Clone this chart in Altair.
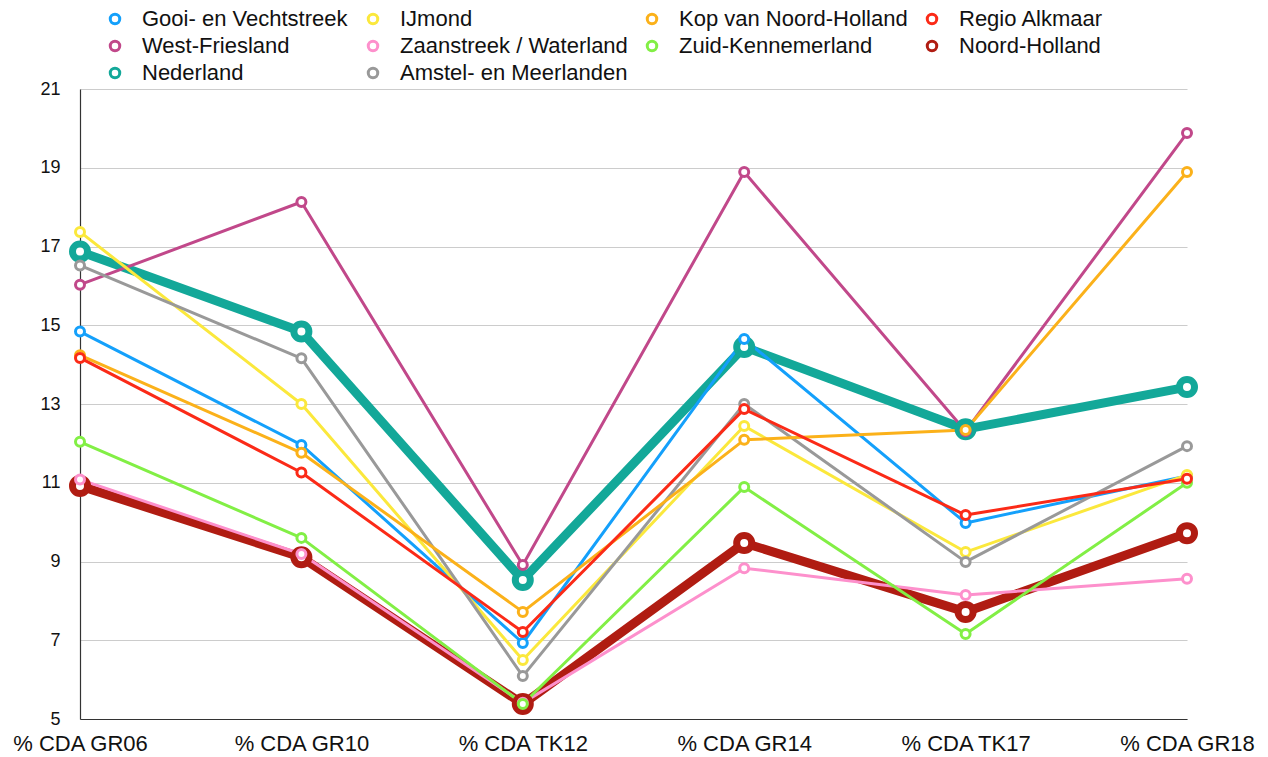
import altair as alt
import pandas as pd

periods = ["% CDA GR06", "% CDA GR10", "% CDA TK12", "% CDA GR14", "% CDA TK17", "% CDA GR18"]

# legend columns, as in the reference
col1_regions = ["Gooi- en Vechtstreek", "West-Friesland", "Nederland"]
col1_colors = ["#14a0fb", "#c1488a", "#13a899"]
col2_regions = ["IJmond", "Zaanstreek / Waterland", "Amstel- en Meerlanden"]
col2_colors = ["#fbe83c", "#fd90cc", "#999999"]
col3_regions = ["Kop van Noord-Holland", "Zuid-Kennemerland"]
col3_colors = ["#fbb11a", "#82ef45"]
col4_regions = ["Regio Alkmaar", "Noord-Holland"]
col4_colors = ["#fb2a17", "#b01c12"]

gooi = [14.84, 11.96, 6.93, 14.65, 9.98, 11.17]
westfriesland = [16.03, 18.13, 8.91, 18.89, 12.31, 19.88]
nederland = [16.87, 14.84, 8.53, 14.45, 12.36, 13.43]
ijmond = [17.37, 13.0, 6.5, 12.44, 9.24, 11.2]
zaanstreek = [11.08, 9.19, 5.41, 8.83, 8.15, 8.56]
amstel = [16.52, 14.16, 6.09, 13.0, 8.99, 11.93]
kop = [14.24, 11.76, 7.72, 12.09, 12.34, 18.89]
zuidkennemerland = [12.04, 9.6, 5.38, 10.89, 7.16, 11.0]
alkmaar = [14.17, 11.26, 7.21, 12.87, 10.18, 11.1]
noordholland = [10.92, 9.11, 5.38, 9.47, 7.72, 9.72]

thick_regions = ["Nederland", "Noord-Holland"]

groups = [
    (col1_regions, col1_colors, [gooi, westfriesland, nederland]),
    (col2_regions, col2_colors, [ijmond, zaanstreek, amstel]),
    (col3_regions, col3_colors, [kop, zuidkennemerland]),
    (col4_regions, col4_colors, [alkmaar, noordholland]),
]

rows = []
for gi, (names, _, vals_list) in enumerate(groups):
    for name, vals in zip(names, vals_list):
        for p, v in zip(periods, vals):
            rows.append({"regio": name, "periode": p, "waarde": v, "groep": gi,
                         "dik": 1 if name in thick_regions else 0})
df = pd.DataFrame(rows)

x_enc = alt.X("periode:N", sort=periods, scale=alt.Scale(type="point", padding=0),
              axis=alt.Axis(title=None, labelAngle=0, ticks=False, labelFontSize=22,
                            labelPadding=14, labelColor="#111", domainColor="#333",
                            domainWidth=1.2, grid=False, labelOverlap=False,
                            labelFont="Liberation Sans"))
y_enc = alt.Y("waarde:Q", scale=alt.Scale(domain=[5, 21], nice=False, zero=False),
              axis=alt.Axis(title=None, values=[5, 7, 9, 11, 13, 15, 17, 19, 21],
                            ticks=False, labelFontSize=18, labelPadding=20,
                            labelColor="#111", domainColor="#333", domainWidth=1.2,
                            grid=True, gridColor="#cccccc", gridWidth=1.2,
                            labelFont="Liberation Sans"))

legend_x = [24, 282, 561, 841]


def make_layer(gi, thick, kind, with_legend):
    names, cols, _ = groups[gi]
    if with_legend:
        leg = alt.Legend(title=None, orient="none", legendX=legend_x[gi], legendY=-81,
                         rowPadding=5, symbolType="circle", symbolSize=90,
                         symbolStrokeWidth=3, symbolFillColor="white",
                         labelFontSize=22, labelOffset=16, labelLimit=400,
                         labelColor="#111", labelFont="Liberation Sans")
    else:
        leg = None
    color = alt.Color("regio:N", scale=alt.Scale(domain=names, range=cols),
                      sort=names, legend=leg)
    ch = alt.Chart(df).transform_filter(
        f"datum.groep == {gi} && datum.dik == {thick}"
    ).encode(x=x_enc, y=y_enc, color=color, detail="regio:N")
    if kind == "line":
        return ch.mark_line(strokeWidth=9 if thick else 3, strokeJoin="round")
    return ch.mark_point(filled=False, fill="white", fillOpacity=1, opacity=1,
                         size=225 if thick else 81, strokeWidth=7 if thick else 3)


layers = [
    make_layer(0, 1, "line", False),
    make_layer(3, 1, "line", False),
    make_layer(0, 0, "line", False),
    make_layer(1, 0, "line", False),
    make_layer(2, 0, "line", False),
    make_layer(3, 0, "line", False),
    make_layer(0, 1, "point", False),
    make_layer(3, 1, "point", False),
    make_layer(0, 0, "point", True),
    make_layer(1, 0, "point", True),
    make_layer(2, 0, "point", True),
    make_layer(3, 0, "point", True),
]

chart = alt.layer(*layers).resolve_scale(color="independent").properties(
    width=1107, height=630,
    autosize=alt.AutoSizeParams(type="none"),
    padding={"left": 72, "top": 81, "right": 70, "bottom": 40},
    background="white",
).configure_view(stroke=None)

chart.save("out.html", embed_options={"renderer": "svg", "actions": False})
